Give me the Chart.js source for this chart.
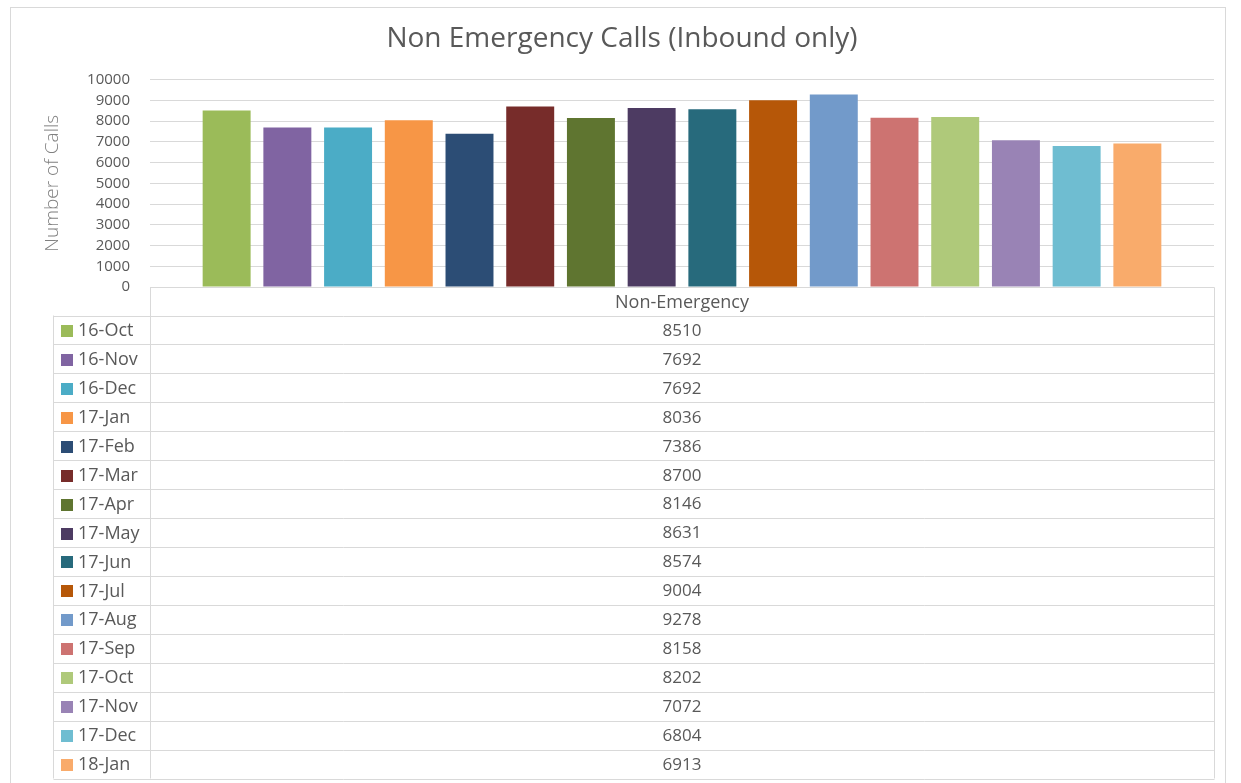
<!DOCTYPE html>
<html>
<head>
<meta charset="utf-8">
<title>Non Emergency Calls</title>
<script src="https://cdn.jsdelivr.net/npm/chart.js@4"></script>
<style>
  body { margin: 0; background: #fff; }
  #wrap { width: 1241px; height: 783px; }
</style>
</head>
<body>
<div id="wrap"><canvas id="callsChart" width="1241" height="783"></canvas></div>
<script>
//data block
const months = ['16-Oct', '16-Nov', '16-Dec', '17-Jan', '17-Feb', '17-Mar', '17-Apr', '17-May',
                '17-Jun', '17-Jul', '17-Aug', '17-Sep', '17-Oct', '17-Nov', '17-Dec', '18-Jan'];
const calls = [8510, 7692, 7692, 8036, 7386, 8700, 8146, 8631, 8574, 9004, 9278, 8158, 8202, 7072, 6804, 6913];
const categoryNames = ['Non-Emergency'];
const barColors = ['#9BBB59', '#8064A2', '#4BACC6', '#F79646', '#2C4D75', '#772C2A', '#5F7530', '#4D3B62',
                   '#276A7C', '#B65708', '#729ACA', '#CD7371', '#AFC97A', '#9983B5', '#6FBDD1', '#F9AB6B'];

const textGrey = '#595959';
const lineGrey = '#d9d9d9';
const fontFamily = "'Open Sans', sans-serif";

//setup block - one dataset per month, like the excel chart
const callsChartData = {
    labels: categoryNames,
    datasets: months.map((m, i) => ({
        label: m,
        data: [calls[i]],
        backgroundColor: barColors[i],
        borderWidth: 0,
        categoryPercentage: 0.913,
        barPercentage: 0.79
    }))
};

// draws the outer frame and the data table under the plot
const dataTablePlugin = {
    id: 'dataTable',
    beforeDraw(chart) {
        const ctx = chart.ctx;
        ctx.save();
        ctx.strokeStyle = lineGrey;
        ctx.lineWidth = 1;
        ctx.strokeRect(10.5, 7.5, 1215, 800);
        ctx.restore();
    },
    afterDraw(chart) {
        const ctx = chart.ctx;
        const area = chart.chartArea;
        const left = Math.round(area.left) + 0.5;
        const right = Math.round(area.right) + 0.5;
        const headTop = Math.round(area.bottom) + 0.5;
        const headBottom = 315.5;
        const tableBottom = 778.5;
        const keyLeft = 53.5;
        const rowH = (tableBottom - headBottom) / months.length;
        const midX = (area.left + area.right) / 2;

        ctx.save();
        ctx.strokeStyle = lineGrey;
        ctx.lineWidth = 1;
        ctx.beginPath();
        // verticals
        ctx.moveTo(left, headTop); ctx.lineTo(left, tableBottom);
        ctx.moveTo(right, headTop); ctx.lineTo(right, tableBottom);
        ctx.moveTo(keyLeft, headBottom); ctx.lineTo(keyLeft, tableBottom);
        // horizontals
        ctx.moveTo(left, headTop); ctx.lineTo(right, headTop);
        for (let i = 0; i <= months.length; i++) {
            const y = Math.round(headBottom + i * rowH) + 0.5;
            ctx.moveTo(keyLeft, y); ctx.lineTo(right, y);
        }
        ctx.stroke();

        ctx.fillStyle = textGrey;
        ctx.textBaseline = 'middle';
        ctx.textAlign = 'center';
        ctx.font = '18px ' + fontFamily;
        ctx.fillText(categoryNames[0], midX, (headTop + headBottom) / 2 + 1);

        months.forEach((m, i) => {
            const cy = headBottom + i * rowH + rowH / 2 + 1;
            ctx.fillStyle = barColors[i];
            ctx.fillRect(61, Math.round(cy - 6), 12, 12);
            ctx.fillStyle = textGrey;
            ctx.textAlign = 'left';
            ctx.font = '18px ' + fontFamily;
            ctx.fillText(m, 78, cy);
            ctx.textAlign = 'center';
            ctx.font = '17px ' + fontFamily;
            ctx.fillText(String(calls[i]), midX, cy);
        });
        ctx.restore();
    }
};

//options
const callsChartOptions = {
    responsive: false,
    animation: false,
    layout: {
        padding: { top: 0, left: 30, right: 27, bottom: 496 }
    },
    plugins: {
        legend: { display: false },
        tooltip: { enabled: false },
        title: {
            display: true,
            text: 'Non Emergency Calls (Inbound only)',
            color: textGrey,
            font: { family: fontFamily, size: 28, weight: 'normal' },
            padding: { top: 22, bottom: 24 }
        }
    },
    scales: {
        x: {
            display: false,
            grid: { display: false }
        },
        y: {
            min: 0,
            max: 10000,
            afterFit(scale) { scale.width = 120; },
            border: { display: false },
            grid: { color: lineGrey, lineWidth: 1, drawTicks: false },
            ticks: {
                stepSize: 1000,
                autoSkip: false,
                padding: 20,
                color: textGrey,
                font: { family: fontFamily, size: 15 },
                callback: (v) => String(v)
            },
            title: {
                display: true,
                text: 'Number of Calls',
                color: '#808080',
                font: { family: fontFamily, size: 19, weight: 300 },
                padding: { top: 11, bottom: 0 }
            }
        }
    }
};

//config block
const callsChartConfig = {
    type: 'bar',
    data: callsChartData,
    options: callsChartOptions,
    plugins: [dataTablePlugin]
};

//render block
const callsChartRender = new Chart(
    document.getElementById('callsChart'), callsChartConfig
);
</script>
</body>
</html>
